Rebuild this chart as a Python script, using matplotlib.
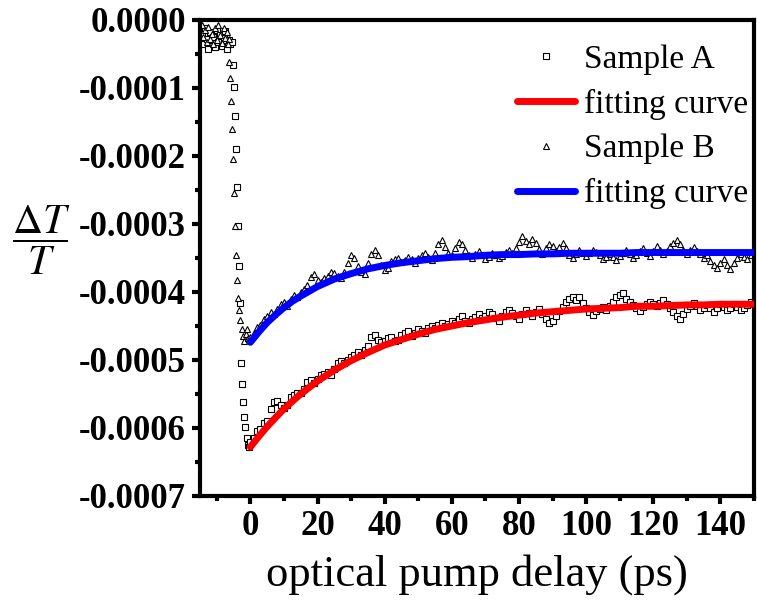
import matplotlib
matplotlib.use('Agg')
import matplotlib.pyplot as plt
import numpy as np
from matplotlib.ticker import MultipleLocator, FormatStrFormatter

plt.rcParams['font.family'] = ['Liberation Serif', 'DejaVu Serif']
plt.rcParams['mathtext.fontset'] = 'stix'
plt.rcParams['axes.unicode_minus'] = False

# all dT/T values below are in units of 1e-4
SCALE = 1e-4

# before the pump arrives
pre_t_a = [-14.5, -14.0, -13.5, -13.0, -12.5, -12.0, -11.5, -11.0, -10.5,
           -10.0, -9.5, -9.0, -8.5, -8.0, -7.5, -7.0, -6.5, -6.0]
pre_a = [-0.20, -0.35, -0.12, -0.28, -0.42, -0.18, -0.30, -0.25, -0.40,
         -0.15, -0.33, -0.22, -0.38, -0.27, -0.16, -0.42, -0.30, -0.36]
pre_t_b = [-14.5, -14.0, -13.5, -13.0, -12.5, -12.0, -11.5, -11.0, -10.5,
           -10.0, -9.5, -9.0, -8.5, -8.0, -7.5, -7.0, -6.5]
pre_b = [-0.08, -0.25, -0.15, -0.32, -0.10, -0.28, -0.20, -0.36, -0.12,
         -0.30, -0.08, -0.22, -0.34, -0.12, -0.26, -0.18, -0.28]

# fast drop around zero delay
drop_t_a = [-5.6, -5.2, -4.9, -4.6, -4.3, -4.0, -3.7, -3.4, -3.1, -2.8,
            -2.5, -2.2, -1.9, -1.5, -1.1, -0.7, -0.3]
drop_a = [-0.32, -0.66, -0.98, -1.41, -1.90, -2.45, -3.03, -3.62, -4.16, -5.04,
          -5.35, -5.62, -5.84, -5.99, -6.14, -6.25, -6.28]
drop_t_b = [-6.6, -6.3, -6.0, -5.7, -5.4, -5.1, -4.8, -4.5, -4.2, -3.9,
            -3.6, -3.3, -3.0, -2.6, -2.2, -1.8, -1.4, -1.0, -0.6]
drop_b = [-0.35, -0.62, -0.85, -1.19, -1.60, -2.05, -2.55, -3.03, -3.46, -3.82,
          -4.09, -4.26, -4.41, -4.54, -4.64, -4.72, -4.62, -4.55, -4.68]

# recovery, one point per ps from 0 to 150 ps
rec_a = [-6.20, -6.14, -6.05, -6.02, -5.93, -5.90, -5.72, -5.62, -5.60, -5.66,
         -5.70, -5.66, -5.55, -5.52, -5.49, -5.48, -5.42, -5.33, -5.30, -5.34,
         -5.28, -5.22, -5.20, -5.18, -5.22, -5.13, -5.05, -5.01, -5.05, -5.00,
         -4.96, -4.92, -4.88, -4.93, -4.86, -4.80, -4.66, -4.63, -4.70, -4.74,
         -4.72, -4.68, -4.66, -4.72, -4.70, -4.63, -4.60, -4.58, -4.64, -4.61,
         -4.55, -4.58, -4.60, -4.53, -4.50, -4.53, -4.48, -4.45, -4.50, -4.47,
         -4.42, -4.45, -4.40, -4.36, -4.42, -4.46, -4.40, -4.37, -4.32, -4.38,
         -4.35, -4.30, -4.33, -4.38, -4.42, -4.36, -4.30, -4.27, -4.31, -4.36,
         -4.40, -4.33, -4.27, -4.31, -4.36, -4.30, -4.25, -4.33, -4.40, -4.45,
         -4.42, -4.35, -4.28, -4.22, -4.15, -4.10, -4.08, -4.12, -4.07, -4.16,
         -4.24, -4.30, -4.34, -4.28, -4.25, -4.22, -4.26, -4.20, -4.15, -4.08,
         -4.04, -4.02, -4.10, -4.14, -4.19, -4.24, -4.28, -4.22, -4.18, -4.14,
         -4.17, -4.21, -4.16, -4.12, -4.18, -4.24, -4.30, -4.36, -4.40, -4.33,
         -4.25, -4.20, -4.16, -4.21, -4.27, -4.23, -4.19, -4.24, -4.29, -4.24,
         -4.18, -4.22, -4.27, -4.23, -4.18, -4.22, -4.27, -4.23, -4.19, -4.14,
         -4.18]
rec_b = [-4.66, -4.60, -4.52, -4.49, -4.40, -4.36, -4.30, -4.33, -4.25, -4.18,
         -4.15, -4.20, -4.10, -4.04, -4.07, -4.00, -3.96, -3.90, -3.78, -3.74,
         -3.82, -3.86, -3.80, -3.76, -3.70, -3.72, -3.77, -3.79, -3.70, -3.58,
         -3.45, -3.50, -3.62, -3.70, -3.74, -3.58, -3.44, -3.38, -3.46, -3.60,
         -3.68, -3.64, -3.55, -3.52, -3.50, -3.56, -3.53, -3.48, -3.52, -3.57,
         -3.50, -3.46, -3.42, -3.48, -3.53, -3.42, -3.30, -3.24, -3.34, -3.42,
         -3.45, -3.35, -3.27, -3.30, -3.38, -3.46, -3.50, -3.44, -3.40, -3.46,
         -3.52, -3.48, -3.42, -3.45, -3.50, -3.47, -3.41, -3.38, -3.42, -3.36,
         -3.26, -3.18, -3.25, -3.30, -3.22, -3.28, -3.37, -3.44, -3.36, -3.30,
         -3.33, -3.40, -3.34, -3.28, -3.36, -3.45, -3.50, -3.44, -3.38, -3.42,
         -3.47, -3.43, -3.38, -3.41, -3.46, -3.52, -3.48, -3.44, -3.49, -3.53,
         -3.47, -3.42, -3.38, -3.44, -3.50, -3.46, -3.40, -3.36, -3.42, -3.47,
         -3.40, -3.32, -3.38, -3.44, -3.40, -3.33, -3.28, -3.24, -3.30, -3.38,
         -3.44, -3.38, -3.34, -3.39, -3.44, -3.50, -3.46, -3.54, -3.60, -3.64,
         -3.58, -3.52, -3.60, -3.66, -3.58, -3.50, -3.44, -3.48, -3.52, -3.45,
         -3.40]
rec_t = list(range(151))

# exponential fits, sampled
fit_t = [0, 2.5, 5, 7.5, 10, 12.5, 15, 20, 25, 30, 35, 40, 45, 50, 55, 60,
         65, 70, 75, 80, 85, 90, 95, 100, 105, 110, 115, 120, 125, 130, 135,
         140, 145, 150]
fit_a = [-6.28, -6.125, -5.98, -5.847, -5.72, -5.608, -5.50, -5.31, -5.15,
         -5.01, -4.89, -4.78, -4.70, -4.62, -4.55, -4.50, -4.45, -4.41, -4.37,
         -4.34, -4.31, -4.29, -4.27, -4.25, -4.24, -4.23, -4.21, -4.21, -4.20,
         -4.19, -4.19, -4.18, -4.18, -4.18]
fit_b = [-4.74, -4.588, -4.45, -4.335, -4.23, -4.137, -4.06, -3.92, -3.81,
         -3.73, -3.66, -3.61, -3.57, -3.54, -3.51, -3.49, -3.48, -3.46, -3.45,
         -3.45, -3.44, -3.44, -3.43, -3.43, -3.43, -3.43, -3.42, -3.42, -3.42,
         -3.42, -3.42, -3.42, -3.42, -3.42]

t_a = np.array(pre_t_a + drop_t_a + rec_t, dtype=float)
y_a = np.array(pre_a + drop_a + rec_a) * SCALE
t_b = np.array(pre_t_b + drop_t_b + rec_t, dtype=float)
y_b = np.array(pre_b + drop_b + rec_b) * SCALE

fig = plt.figure(figsize=(7.57, 6.02), dpi=100)
ax = fig.add_axes([0.2642, 0.1761, 0.7318, 0.7907])

ax.plot(t_a, y_a, ls='none', marker='s', ms=4.3, mfc='white', mec='black',
        mew=0.8, label='Sample A')
ax.plot(fit_t, np.array(fit_a) * SCALE, color='#ff0000', lw=5,
        solid_capstyle='round', label='fitting curve', zorder=3)
ax.plot(t_b, y_b, ls='none', marker='^', ms=5, mfc='white', mec='black',
        mew=0.8, label='Sample B')
ax.plot(fit_t, np.array(fit_b) * SCALE, color='#0000ff', lw=5,
        solid_capstyle='round', label='fitting curve', zorder=3)

ax.set_xlim(-15, 150)
ax.set_ylim(-0.0007, 0.0)
ax.xaxis.set_major_locator(MultipleLocator(20))
ax.xaxis.set_minor_locator(MultipleLocator(10))
ax.yaxis.set_major_locator(MultipleLocator(0.0001))
ax.yaxis.set_minor_locator(MultipleLocator(0.00005))
ax.yaxis.set_major_formatter(FormatStrFormatter('%.4f'))

for side in ax.spines.values():
    side.set_linewidth(3)
ax.tick_params(which='major', direction='out', length=6, width=3, pad=4,
               labelsize=25)
ax.tick_params(which='minor', direction='out', length=3.5, width=3)
for lab in ax.get_xticklabels() + ax.get_yticklabels():
    lab.set_fontweight('bold')

ax.set_xlabel('optical pump delay (ps)', fontsize=32, labelpad=8)
fig.text(0.054, 0.60, r'$\dfrac{\Delta T}{T}$', fontsize=30,
         ha='center', va='center')

leg = ax.legend(loc='upper right', bbox_to_anchor=(1.013, 0.977), frameon=False,
                fontsize=24, handlelength=1.75, handletextpad=0.25,
                labelspacing=0.42, borderaxespad=0.0)

fig.savefig('out.png', dpi=100)
